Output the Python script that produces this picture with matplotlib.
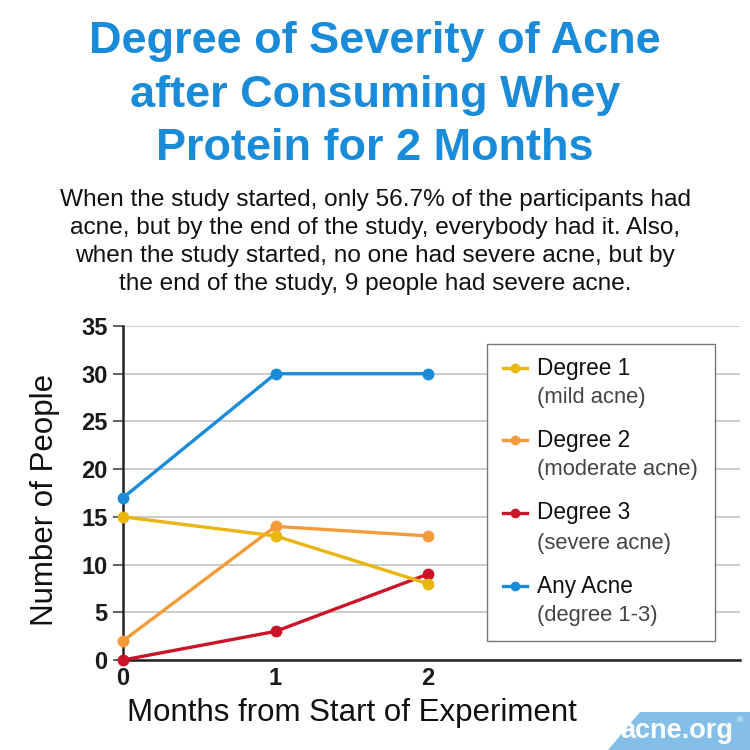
import matplotlib
matplotlib.use("Agg")
import matplotlib.pyplot as plt
from matplotlib.lines import Line2D
from matplotlib.patches import Rectangle, Polygon

months = [0, 1, 2]
degree1 = [15, 13, 8]
degree2 = [2, 14, 13]
degree3 = [0, 3, 9]
any_acne = [17, 30, 30]
series_names = ["Degree 1", "Degree 2", "Degree 3", "Any Acne"]
series_notes = ["(mild acne)", "(moderate acne)", "(severe acne)", "(degree 1-3)"]
yticks = [0, 5, 10, 15, 20, 25, 30, 35]

colors = ["#e9b50f", "#f39b3b", "#cc1429", "#1a8bd9"]
FONT = "Liberation Sans"
plt.rcParams['font.family'] = [FONT, 'DejaVu Sans']

fig = plt.figure(figsize=(7.5, 7.5), dpi=100)
ax = fig.add_axes([123/750, 1-660/750, 617/750, 334/750])

for vals, c in zip([degree3, degree2, degree1, any_acne], [colors[2], colors[1], colors[0], colors[3]]):
    ax.plot(months, vals, color=c, lw=2.4, marker='o', ms=7.5, clip_on=False, zorder=3)

ax.set_xlim(0, 617/152.5)
ax.set_ylim(0, 35)
ax.set_yticks(yticks)
ax.set_xticks(months)
ax.grid(axis='y', color='#c8c8c8', lw=1.3)
ax.set_axisbelow(True)
for s in ['top', 'right']:
    ax.spines[s].set_visible(False)
for s in ['left', 'bottom']:
    ax.spines[s].set_color('#222222')
    ax.spines[s].set_linewidth(1.8)
ax.tick_params(axis='y', length=7, width=1.3, color='#555555', pad=4,
               labelsize=17)
ax.tick_params(axis='x', length=0, pad=5, labelsize=17)
for lab in ax.get_xticklabels() + ax.get_yticklabels():
    lab.set_fontweight('bold')
    lab.set_color('#1a1a1a')

fig.text(352/750, 1 - 713/750, "Months from Start of Experiment", fontsize=22.5,
         color='#111111', ha='center', va='center')
fig.text(45/750, 1 - 500/750, "Number of People", fontsize=22.5, color='#111111',
         ha='center', va='center', rotation=90)

# manual legend
tr = ax.transAxes
def ax_x(px):
    return (px - 123) / 617
def ax_y(py):
    return (660 - py) / 334
ax.add_patch(Rectangle((ax_x(487), ax_y(641)), ax_x(715) - ax_x(487), ax_y(344) - ax_y(641),
                       transform=tr, facecolor='white', edgecolor='#777777', lw=1.0,
                       clip_on=False, zorder=5))
name_y = [368, 440, 513, 586]
for name, note, c, py in zip(series_names, series_notes, colors, name_y):
    ax.add_line(Line2D([ax_x(503), ax_x(527)], [ax_y(py), ax_y(py)], transform=tr,
                       color=c, lw=2.4, clip_on=False, zorder=6))
    ax.add_line(Line2D([ax_x(515)], [ax_y(py)], transform=tr, color=c, marker='o',
                       ms=6, clip_on=False, zorder=6))
    ax.text(ax_x(537), ax_y(py), name, transform=tr, fontsize=16.3, color='#111111',
            va='center', ha='left', zorder=7)
    ax.text(ax_x(537), ax_y(py + 30), note, transform=tr, fontsize=15.8, color='#444444',
            va='center', ha='left', zorder=7)

# title & subtitle
title_lines = ["Degree of Severity of Acne", "after Consuming Whey", "Protein for 2 Months"]
for i, t in enumerate(title_lines):
    fig.text(0.5, 1 - (41 + 54 * i) / 750, t, ha='center', va='center', fontsize=32.5,
             fontweight='bold', color='#1a8bd9')
sub_lines = ["When the study started, only 56.7% of the participants had",
             "acne, but by the end of the study, everybody had it. Also,",
             "when the study started, no one had severe acne, but by",
             "the end of the study, 9 people had severe acne."]
for i, t in enumerate(sub_lines):
    fig.text(0.5, 1 - (200 + 28 * i) / 750, t, ha='center', va='center', fontsize=17.6,
             color='#111111')

# logo
fig.patches.append(Polygon([[608/750, 0], [640/750, 1 - 712/750], [1, 1 - 712/750], [1, 0]],
                           closed=True, transform=fig.transFigure, facecolor='#84bfe8',
                           edgecolor='none'))
fig.text(677/750, 1 - 731/750, "acne.org", ha='center', va='center', fontsize=19.5,
         fontweight='bold', color='white')
fig.text(740/750, 1 - 721/750, "®", ha='center', va='center', fontsize=6, color='white')

fig.savefig("out.png", dpi=100, facecolor='white')
